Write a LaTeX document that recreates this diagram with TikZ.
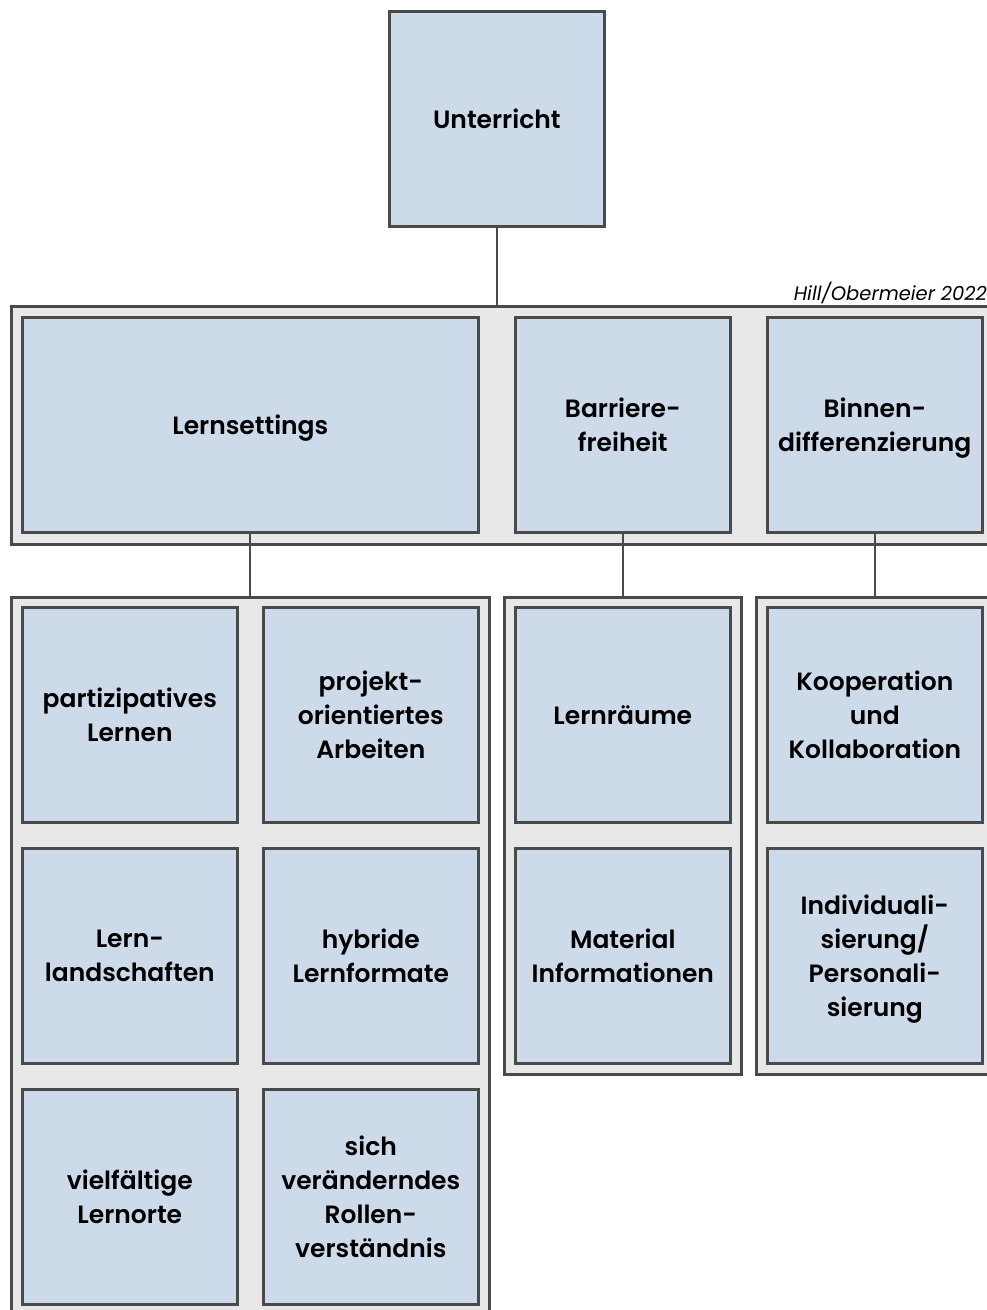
\documentclass[tikz,border=0pt]{standalone}
\usepackage{fontspec}
\setmainfont{Poppins}[UprightFont=* SemiBold, ItalicFont=* Italic]
\definecolor{boxfill}{HTML}{CDDAE9}
\definecolor{contfill}{HTML}{E8E8E8}
\definecolor{edge}{HTML}{4A4A4A}
\tikzset{
  item/.style={draw=edge, line width=2.6pt, fill=boxfill, minimum width=215pt, minimum height=215pt, align=center, inner sep=0pt, text depth=0pt, font=\fontsize{25}{34}\selectfont, anchor=north west},
  cont/.style={draw=edge, line width=2.6pt, fill=contfill, inner sep=0pt, anchor=north west},
  link/.style={draw=edge, line width=1.8pt}
}
\begin{document}
\begin{tikzpicture}[x=1pt,y=-1pt]
\clip (0,0) rectangle (987,1310);
\fill[white] (0,0) rectangle (987,1310);
% containers
\node[cont, minimum width=1000pt, minimum height=238pt] (mid) at (10,305) {};
\node[cont, minimum width=478pt, minimum height=760pt] (lc) at (10,596) {};
\node[cont, minimum width=237pt, minimum height=477pt] (bc) at (503,596) {};
\node[cont, minimum width=300pt, minimum height=477pt] (dc) at (755,596) {};
% top
\node[item] (u) at (388,10) {Unterricht};
\node[anchor=base east, inner sep=0pt, font=\fontsize{19.5}{22}\selectfont\itshape] (src) at (987,300) {Hill/Obermeier 2022};
% middle row
\node[item, minimum width=456pt] (ls) at (21,316) {Lernsettings};
\node[item] (bf) at (514,316) {Barriere-\\freiheit};
\node[item] (bd) at (766,316) {Binnen-\\differenzierung};
% lower left
\node[item] (a1) at (21,606) {partizipatives\\Lernen};
\node[item] (a2) at (262,606) {projekt-\\orientiertes\\Arbeiten};
\node[item] (a3) at (21,847) {Lern-\\landschaften};
\node[item] (a4) at (262,847) {hybride\\Lernformate};
\node[item] (a5) at (21,1088) {vielfältige\\Lernorte};
\node[item] (a6) at (262,1088) {sich\\veränderndes\\Rollen-\\verständnis};
% lower middle
\node[item] (b1) at (514,606) {Lernräume};
\node[item] (b2) at (514,847) {Material\\Informationen};
% lower right
\node[item] (d1) at (766,606) {Kooperation\\und\\Kollaboration};
\node[item] (d2) at (766,847) {Individuali-\\sierung/\\Personali-\\sierung};
% connectors
\draw[link] (u.south) -- (u.south |- mid.north);
\draw[link] (ls.south) -- (ls.south |- lc.north);
\draw[link] (bf.south) -- (bf.south |- bc.north);
\draw[link] (bd.south) -- (bd.south |- dc.north);
\end{tikzpicture}
\end{document}
